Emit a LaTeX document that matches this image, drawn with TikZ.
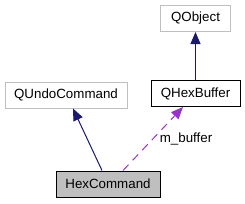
\documentclass[tikz,border=0pt]{standalone}
\usepackage{fontspec}
\setmainfont{Liberation Sans}
\usetikzlibrary{arrows.meta, positioning, calc}
\usepackage{xcolor}
\definecolor{bordegris}{RGB}{191,191,191}
\definecolor{herencia}{RGB}{25,25,112}
\definecolor{miembro}{RGB}{154,50,205}

\begin{document}
\begin{tikzpicture}[x=0.75pt, y=-0.75pt,
    clase/.style={draw=bordegris, line width=0.75pt, inner sep=0pt,
      minimum height=19.5pt, font=\fontsize{10}{12}\selectfont},
    punta/.style={-{Triangle[length=9pt,width=7.5pt]}}]
    \useasboundingbox (0,0) rectangle (245,203);

    % clases de la jerarquia
    \node[clase, minimum width=52.5pt] (qobject) at (195.5,18.5) {QObject};
    \node[clase, draw=black, minimum width=66.75pt] (qhexbuffer) at (195.5,93.5) {QHexBuffer};
    \node[clase, minimum width=91.5pt] (qundocommand) at (66,95) {QUndoCommand};
    \node[clase, draw=black, fill=bordegris, minimum width=78pt] (hexcommand) at (108,184) {HexCommand};

    % herencia
    \draw[herencia, line width=0.75pt, punta] (qhexbuffer.north) -- (qobject.south);
    \draw[herencia, line width=0.75pt, punta]
      ($(hexcommand.north)+(-6,0)$) -- ($(qundocommand.south)+(7,0)$);

    % uso (miembro)
    \draw[miembro, line width=0.75pt, dashed, dash pattern=on 6pt off 4.5pt, punta]
      ($(hexcommand.north)+(15,0)$) -- ($(qhexbuffer.south)+(-12.5,0)$);
    \node[font=\fontsize{10}{12}\selectfont] (mbuffer) at (186,139) {m\_buffer};
  \end{tikzpicture}
\end{document}
